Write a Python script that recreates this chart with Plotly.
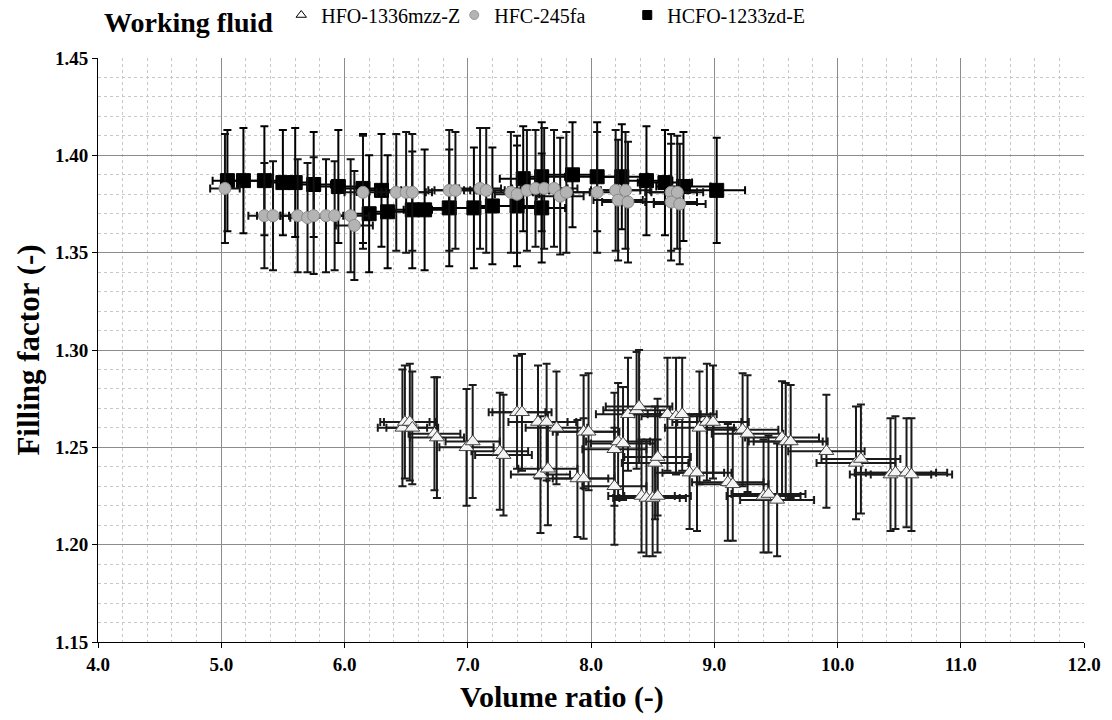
import plotly.graph_objects as go

# ---------------- data ----------------
hfo_x = [6.47, 6.49, 6.53, 6.55, 6.73, 6.75, 6.99, 7.04, 7.26, 7.29, 7.40, 7.44, 7.57, 7.64, 7.59, 7.65,
         7.72, 7.89, 7.94, 7.94, 7.98, 8.19, 8.19, 8.22, 8.26, 8.30, 8.37, 8.39, 8.41, 8.45, 8.50, 8.54,
         8.52, 8.54, 8.62, 8.69, 8.74, 8.80, 8.86, 8.88, 8.94, 8.99, 9.11, 9.15, 9.23, 9.27, 9.40, 9.44,
         9.51, 9.55, 9.58, 9.62, 9.91, 10.15, 10.19, 10.43, 10.47, 10.56, 10.60]
hfo_y = [1.260, 1.263, 1.263, 1.260, 1.257, 1.255, 1.250, 1.253, 1.248, 1.246, 1.268, 1.268, 1.263, 1.263, 1.236, 1.239,
         1.260, 1.234, 1.234, 1.258, 1.258, 1.249, 1.230, 1.253, 1.252, 1.267, 1.269, 1.271, 1.225, 1.224, 1.224, 1.225,
         1.242, 1.245, 1.267, 1.266, 1.267, 1.237, 1.237, 1.260, 1.263, 1.263, 1.232, 1.231, 1.259, 1.257, 1.225, 1.226,
         1.223, 1.255, 1.253, 1.253, 1.248, 1.242, 1.244, 1.236, 1.237, 1.237, 1.236]
hfo_xerr = [0.20, 0.20, 0.21, 0.21, 0.21, 0.22, 0.22, 0.22, 0.23, 0.23, 0.23, 0.24, 0.24, 0.24, 0.24, 0.24,
            0.25, 0.25, 0.25, 0.25, 0.25, 0.26, 0.26, 0.26, 0.26, 0.26, 0.27, 0.27, 0.27, 0.27, 0.27, 0.27,
            0.27, 0.27, 0.27, 0.28, 0.28, 0.28, 0.28, 0.28, 0.28, 0.29, 0.29, 0.29, 0.29, 0.29, 0.30, 0.30,
            0.30, 0.30, 0.30, 0.30, 0.31, 0.32, 0.32, 0.33, 0.33, 0.33, 0.33]
hfo_yerr = [0.030, 0.029, 0.030, 0.029, 0.029, 0.031, 0.030, 0.029, 0.030, 0.031, 0.029, 0.030, 0.029, 0.030, 0.030, 0.029,
            0.029, 0.030, 0.031, 0.029, 0.030, 0.029, 0.030, 0.030, 0.029, 0.029, 0.030, 0.029, 0.029, 0.030, 0.030, 0.029,
            0.029, 0.030, 0.029, 0.030, 0.029, 0.029, 0.030, 0.029, 0.030, 0.029, 0.030, 0.029, 0.029, 0.030, 0.029, 0.030,
            0.029, 0.029, 0.030, 0.029, 0.029, 0.029, 0.028, 0.029, 0.029, 0.028, 0.029]

hfc_x = [5.03, 5.35, 5.42, 5.62, 5.70, 5.75, 5.85, 5.92, 6.05, 6.08, 6.15, 6.42, 6.50, 6.55, 6.85, 6.90,
         7.10, 7.15, 7.35, 7.40, 7.48, 7.55, 7.62, 7.70, 7.75, 7.80, 8.05, 8.20, 8.28, 8.22, 8.30, 8.65,
         8.70, 8.65, 8.72]
hfc_y = [1.383, 1.369, 1.369, 1.369, 1.368, 1.369, 1.369, 1.369, 1.369, 1.364, 1.381, 1.381, 1.381, 1.381, 1.382, 1.382,
         1.383, 1.382, 1.381, 1.380, 1.382, 1.383, 1.383, 1.383, 1.379, 1.381, 1.381, 1.382, 1.382, 1.377, 1.376, 1.381,
         1.381, 1.376, 1.375]
hfc_xerr = [0.12, 0.13, 0.13, 0.14, 0.14, 0.14, 0.14, 0.15, 0.15, 0.15, 0.15, 0.16, 0.16, 0.16, 0.17, 0.17,
            0.17, 0.18, 0.18, 0.18, 0.18, 0.19, 0.19, 0.19, 0.19, 0.19, 0.20, 0.20, 0.20, 0.20, 0.21, 0.21,
            0.21, 0.21, 0.21]
hfc_yerr = [0.028, 0.027, 0.028, 0.029, 0.028, 0.030, 0.029, 0.028, 0.029, 0.028, 0.029, 0.030, 0.031, 0.030, 0.031, 0.030,
            0.031, 0.032, 0.031, 0.030, 0.031, 0.030, 0.031, 0.030, 0.030, 0.031, 0.031, 0.031, 0.030, 0.031, 0.031, 0.030,
            0.029, 0.030, 0.031]

hcfo_x = [5.05, 5.18, 5.35, 5.50, 5.60, 5.75, 5.95, 6.15, 6.30,
          6.20, 6.35, 6.55, 6.65, 6.85, 7.05, 7.20, 7.40, 7.60,
          7.45, 7.60, 7.85, 8.05, 8.25, 8.45, 8.60, 8.75, 9.02]
hcfo_y = [1.387, 1.387, 1.387, 1.386, 1.386, 1.385, 1.384, 1.383, 1.382,
          1.370, 1.371, 1.372, 1.372, 1.373, 1.373, 1.374, 1.374, 1.373,
          1.388, 1.389, 1.390, 1.389, 1.389, 1.387, 1.386, 1.384, 1.382]
hcfo_xerr = [0.12, 0.13, 0.13, 0.14, 0.14, 0.14, 0.15, 0.15, 0.16,
             0.15, 0.16, 0.16, 0.17, 0.17, 0.18, 0.18, 0.19, 0.19,
             0.19, 0.19, 0.20, 0.20, 0.21, 0.21, 0.22, 0.22, 0.23]
hcfo_yerr = [0.026, 0.027, 0.028, 0.027, 0.028, 0.027, 0.029, 0.028, 0.029,
             0.030, 0.029, 0.030, 0.031, 0.030, 0.031, 0.030, 0.031, 0.028,
             0.027, 0.028, 0.027, 0.028, 0.027, 0.028, 0.027, 0.028, 0.027]

names = ["HFO-1336mzz-Z", "HFC-245fa", "HCFO-1233zd-E"]
x_ticks = [4.0, 5.0, 6.0, 7.0, 8.0, 9.0, 10.0, 11.0, 12.0]
y_ticks = [1.15, 1.20, 1.25, 1.30, 1.35, 1.40, 1.45]

FONT = "Liberation Serif, Times New Roman, serif"

fig = go.Figure()

def add_series(x, y, xe, ye, name, symbol, fill, edge, size, ebcolor):
    fig.add_trace(go.Scatter(
        x=x, y=y, mode="markers", name=name, showlegend=False,
        marker=dict(symbol=symbol, size=size, color=fill, line=dict(color=edge, width=1)),
        error_x=dict(type="data", array=xe, visible=True, color=ebcolor, thickness=2, width=4),
        error_y=dict(type="data", array=ye, visible=True, color=ebcolor, thickness=2, width=4),
    ))

add_series(hfo_x, hfo_y, hfo_xerr, hfo_yerr, names[0], "triangle-up", "#f4f4f4", "#444444", 13, "#1a1a1a")
add_series(hcfo_x, hcfo_y, hcfo_xerr, hcfo_yerr, names[2], "square", "#000000", "#000000", 14, "#000000")
add_series(hfc_x, hfc_y, hfc_xerr, hfc_yerr, names[1], "circle", "#b4b4b4", "#8a8a8a", 12, "#111111")

# legend-only entries with small symbols
for nm, sym, fill, edge in [(names[0], "triangle-up-open", "#000000", "#000000"),
                            (names[1], "circle", "#b4b4b4", "#999999"),
                            (names[2], "square", "#000000", "#000000")]:
    fig.add_trace(go.Scatter(x=[None], y=[None], mode="markers", name=nm, showlegend=True,
                             marker=dict(symbol=sym, size=9, color=fill, line=dict(color=edge, width=1))))
# blank spacer entry so the last legend label is not clipped
fig.add_trace(go.Scatter(x=[None], y=[None], mode="markers", name=" ", showlegend=True,
                         marker=dict(size=1, color="rgba(0,0,0,0)")))

fig.update_layout(
    width=1112, height=720,
    margin=dict(l=98, r=28, t=58, b=78, autoexpand=False),
    paper_bgcolor="white", plot_bgcolor="white",
    font=dict(family=FONT, color="black"),
    legend=dict(orientation="h", xref="container", x=102 / 1112, xanchor="left",
                yref="container", y=1 - 19 / 720, yanchor="middle",
                title=dict(text="<b>Working fluid</b>", font=dict(size=28, family=FONT), side="left"),
                font=dict(size=20, family=FONT), itemwidth=30, tracegroupgap=0,
                entrywidth=128, entrywidthmode="pixels",
                bgcolor="rgba(0,0,0,0)"),
    xaxis=dict(range=[4.0, 12.0], tickvals=x_ticks, ticktext=[f"<b>{v:.1f}</b>" for v in x_ticks],
               showgrid=True, gridcolor="#8c8c8c", gridwidth=1,
               showline=True, linecolor="black", linewidth=1, mirror=False,
               ticks="outside", ticklen=5, tickcolor="black",
               tickfont=dict(size=19, family=FONT), zeroline=False,
               minor=dict(dtick=0.2, tick0=4.0, showgrid=True, gridcolor="#c8c8c8", griddash="dot", gridwidth=1)),
    yaxis=dict(range=[1.15, 1.45], tickvals=y_ticks, ticktext=[f"<b>{v:.2f}</b>" for v in y_ticks],
               showgrid=True, gridcolor="#8c8c8c", gridwidth=1,
               showline=True, linecolor="black", linewidth=1,
               ticks="outside", ticklen=5, tickcolor="black",
               tickfont=dict(size=19, family=FONT), zeroline=False,
               minor=dict(dtick=0.01, tick0=1.15, showgrid=True, gridcolor="#c8c8c8", griddash="dot", gridwidth=1),
               title=dict(text="<b>Filling factor (-)</b>", font=dict(size=31, family=FONT), standoff=6)),
    annotations=[dict(text="<b>Volume ratio (-)</b>", xref="paper", yref="paper",
                      x=(562 - 98) / 986, y=(642 - 697) / 584, xanchor="center", yanchor="middle",
                      showarrow=False, font=dict(size=30, family=FONT))],
)

fig.write_html("out.html")
